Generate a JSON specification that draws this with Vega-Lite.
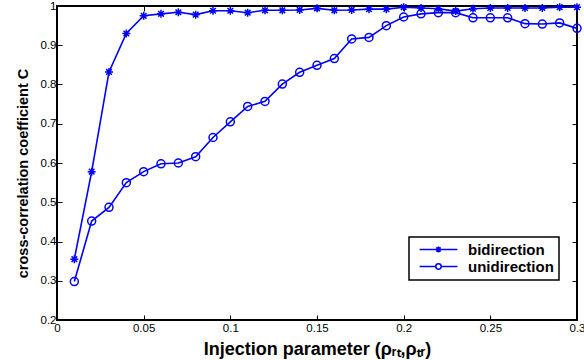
{
  "$schema": "https://vega.github.io/schema/vega-lite/v6.json",
  "width": 520,
  "height": 314,
  "autosize": {"type": "none"},
  "padding": {"left": 57, "top": 6, "right": 7, "bottom": 40},
  "background": "white",
  "config": {
    "view": {"stroke": "black", "strokeWidth": 2},
    "axis": {
      "labelFont": "Liberation Sans",
      "labelFontSize": 11.5,
      "labelColor": "black",
      "titleFont": "Liberation Sans",
      "titleFontWeight": "bold",
      "titleColor": "black",
      "tickColor": "black",
      "tickWidth": 1,
      "tickSize": -5,
      "domain": false,
      "grid": false,
      "labelOverlap": false,
      "labelFlush": false
    }
  },
  "data": {
    "values": [
      {"x": 0.01, "C": 0.355, "series": "bidirection"},
      {"x": 0.02, "C": 0.578, "series": "bidirection"},
      {"x": 0.03, "C": 0.832, "series": "bidirection"},
      {"x": 0.04, "C": 0.930, "series": "bidirection"},
      {"x": 0.05, "C": 0.975, "series": "bidirection"},
      {"x": 0.06, "C": 0.980, "series": "bidirection"},
      {"x": 0.07, "C": 0.984, "series": "bidirection"},
      {"x": 0.08, "C": 0.978, "series": "bidirection"},
      {"x": 0.09, "C": 0.988, "series": "bidirection"},
      {"x": 0.10, "C": 0.988, "series": "bidirection"},
      {"x": 0.11, "C": 0.983, "series": "bidirection"},
      {"x": 0.12, "C": 0.989, "series": "bidirection"},
      {"x": 0.13, "C": 0.989, "series": "bidirection"},
      {"x": 0.14, "C": 0.990, "series": "bidirection"},
      {"x": 0.15, "C": 0.994, "series": "bidirection"},
      {"x": 0.16, "C": 0.989, "series": "bidirection"},
      {"x": 0.17, "C": 0.990, "series": "bidirection"},
      {"x": 0.18, "C": 0.992, "series": "bidirection"},
      {"x": 0.19, "C": 0.992, "series": "bidirection"},
      {"x": 0.20, "C": 0.997, "series": "bidirection"},
      {"x": 0.21, "C": 0.995, "series": "bidirection"},
      {"x": 0.22, "C": 0.993, "series": "bidirection"},
      {"x": 0.23, "C": 0.987, "series": "bidirection"},
      {"x": 0.24, "C": 0.993, "series": "bidirection"},
      {"x": 0.25, "C": 0.995, "series": "bidirection"},
      {"x": 0.26, "C": 0.995, "series": "bidirection"},
      {"x": 0.27, "C": 0.995, "series": "bidirection"},
      {"x": 0.28, "C": 0.995, "series": "bidirection"},
      {"x": 0.29, "C": 0.997, "series": "bidirection"},
      {"x": 0.30, "C": 0.997, "series": "bidirection"},
      {"x": 0.01, "C": 0.298, "series": "unidirection"},
      {"x": 0.02, "C": 0.452, "series": "unidirection"},
      {"x": 0.03, "C": 0.487, "series": "unidirection"},
      {"x": 0.04, "C": 0.550, "series": "unidirection"},
      {"x": 0.05, "C": 0.578, "series": "unidirection"},
      {"x": 0.06, "C": 0.598, "series": "unidirection"},
      {"x": 0.07, "C": 0.600, "series": "unidirection"},
      {"x": 0.08, "C": 0.616, "series": "unidirection"},
      {"x": 0.09, "C": 0.665, "series": "unidirection"},
      {"x": 0.10, "C": 0.705, "series": "unidirection"},
      {"x": 0.11, "C": 0.744, "series": "unidirection"},
      {"x": 0.12, "C": 0.757, "series": "unidirection"},
      {"x": 0.13, "C": 0.801, "series": "unidirection"},
      {"x": 0.14, "C": 0.831, "series": "unidirection"},
      {"x": 0.15, "C": 0.849, "series": "unidirection"},
      {"x": 0.16, "C": 0.866, "series": "unidirection"},
      {"x": 0.17, "C": 0.916, "series": "unidirection"},
      {"x": 0.18, "C": 0.920, "series": "unidirection"},
      {"x": 0.19, "C": 0.950, "series": "unidirection"},
      {"x": 0.20, "C": 0.972, "series": "unidirection"},
      {"x": 0.21, "C": 0.980, "series": "unidirection"},
      {"x": 0.22, "C": 0.983, "series": "unidirection"},
      {"x": 0.23, "C": 0.983, "series": "unidirection"},
      {"x": 0.24, "C": 0.970, "series": "unidirection"},
      {"x": 0.25, "C": 0.970, "series": "unidirection"},
      {"x": 0.26, "C": 0.970, "series": "unidirection"},
      {"x": 0.27, "C": 0.955, "series": "unidirection"},
      {"x": 0.28, "C": 0.954, "series": "unidirection"},
      {"x": 0.29, "C": 0.957, "series": "unidirection"},
      {"x": 0.30, "C": 0.943, "series": "unidirection"}
    ]
  },
  "resolve": {"axis": {"x": "independent", "y": "independent"}},
  "layer": [
    {
      "mark": {"type": "line", "strokeWidth": 1.6},
      "encoding": {
        "x": {
          "field": "x", "type": "quantitative",
          "scale": {"domain": [0, 0.3], "nice": false, "zero": false},
          "axis": {
            "orient": "bottom",
            "values": [0, 0.05, 0.1, 0.15, 0.2, 0.25, 0.3],
            "format": "~g",
            "labelPadding": 7,
            "title": "Injection parameter (ρᵣₜ,ρₜᵣ)",
            "titleFontSize": 18,
            "titlePadding": 7
          }
        },
        "y": {
          "field": "C", "type": "quantitative",
          "scale": {"domain": [0.2, 1], "nice": false, "zero": false},
          "axis": {
            "orient": "left",
            "values": [0.2, 0.3, 0.4, 0.5, 0.6, 0.7, 0.8, 0.9, 1],
            "format": "~g",
            "labelPadding": 6,
            "title": "cross-correlation coefficient C",
            "titleFontSize": 14.5,
            "titleX": -27,
            "titleY": 167,
            "titleBaseline": "bottom"
          }
        },
        "color": {
          "field": "series", "type": "nominal",
          "scale": {"domain": ["bidirection", "unidirection"], "range": ["#0000ff", "#0000ff"]},
          "legend": {
            "orient": "none",
            "legendX": 352,
            "legendY": 231,
            "title": null,
            "padding": 5,
            "rowPadding": 1,
            "fillColor": "white",
            "strokeColor": "black",
            "labelFont": "Liberation Sans",
            "labelFontWeight": "bold",
            "labelFontSize": 15,
            "labelColor": "black",
            "symbolSize": 36,
            "symbolStrokeWidth": 1.5,
            "symbolStrokeColor": "#0000ff",
            "symbolOffset": 17,
            "labelOffset": 22,
            "encode": {
              "legend": {"update": {"strokeWidth": {"value": 1.5}}},
              "symbols": {
                "update": {
                  "shape": {"signal": "datum.value === 'bidirection' ? 'M-6.3,0H6.3M0,-1V1M-1,0H1M-0.7,-0.7L0.7,0.7M-0.7,0.7L0.7,-0.7' : 'M-6.3,0H-0.9A0.9,0.9 0 1,1 0.9,0A0.9,0.9 0 1,1 -0.9,0M0.9,0H6.3'"},
                  "fill": {"value": "transparent"},
                  "stroke": {"value": "#0000ff"}
                }
              }
            }
          }
        }
      }
    },
    {
      "transform": [{"filter": "datum.series === 'bidirection'"}],
      "mark": {"type": "point", "filled": false, "strokeWidth": 1.5, "size": 64, "opacity": 1, "color": "#0000ff",
               "shape": "M-1,0H1M0,-1V1M-0.7,-0.7L0.7,0.7M-0.7,0.7L0.7,-0.7"},
      "encoding": {
        "x": {
          "field": "x", "type": "quantitative",
          "axis": {
            "orient": "top",
            "values": [0, 0.05, 0.1, 0.15, 0.2, 0.25, 0.3],
            "labels": false,
            "title": null
          }
        },
        "y": {
          "field": "C", "type": "quantitative",
          "axis": {
            "orient": "right",
            "values": [0.2, 0.3, 0.4, 0.5, 0.6, 0.7, 0.8, 0.9, 1],
            "labels": false,
            "title": null
          }
        }
      }
    },
    {
      "transform": [{"filter": "datum.series === 'unidirection'"}],
      "mark": {"type": "point", "filled": false, "strokeWidth": 1.5, "size": 64, "opacity": 1, "color": "#0000ff", "shape": "circle"},
      "encoding": {
        "x": {"field": "x", "type": "quantitative", "axis": null},
        "y": {"field": "C", "type": "quantitative", "axis": null}
      }
    }
  ]
}
